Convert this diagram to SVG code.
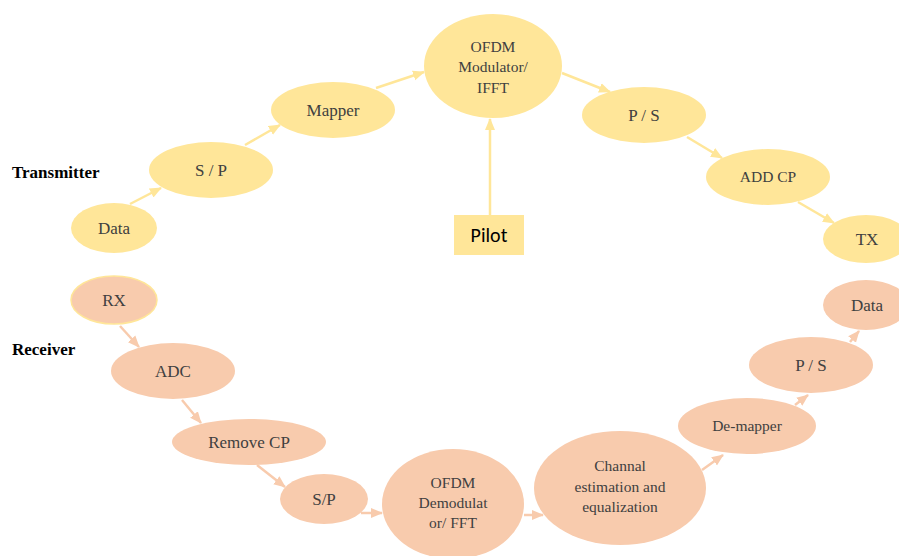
<svg xmlns="http://www.w3.org/2000/svg" width="899" height="556" viewBox="0 0 899 556">
<style>
.tx{fill:#FFE699}
.rx{fill:#F8CBAD}
.t{font-family:'Liberation Serif','Times New Roman','DejaVu Serif',serif;font-size:17px;fill:#404040;text-anchor:middle}
.s{font-size:15.5px}
.lbl{font-family:'Liberation Serif','Times New Roman','DejaVu Serif',serif;font-size:17px;font-weight:bold;fill:#000}
.cy{stroke:#FFE699;stroke-width:2.5;fill:none;marker-end:url(#ay)}
.co{stroke:#F8CBAD;stroke-width:2.5;fill:none;marker-end:url(#ao)}
</style>
<defs>
<marker id="ay" markerUnits="userSpaceOnUse" markerWidth="12" markerHeight="12" viewBox="0 0 12 12" refX="11" refY="6" orient="auto"><path d="M0,1 L12,6 L0,11 Z" fill="#FFE699"/></marker>
<marker id="ao" markerUnits="userSpaceOnUse" markerWidth="12" markerHeight="12" viewBox="0 0 12 12" refX="11" refY="6" orient="auto"><path d="M0,1 L12,6 L0,11 Z" fill="#F8CBAD"/></marker>
</defs>
<rect width="899" height="556" fill="#fff"/>
<text class="lbl" x="12" y="178">Transmitter</text>
<text class="lbl" x="12" y="355">Receiver</text>
<g id="connectors">
<line class="cy" x1="130" y1="204" x2="161" y2="188"/>
<line class="cy" x1="245" y1="145" x2="280" y2="125"/>
<line class="cy" x1="376" y1="88" x2="424" y2="72"/>
<line class="cy" x1="562" y1="73" x2="610" y2="92"/>
<line class="cy" x1="687" y1="137" x2="722" y2="158"/>
<line class="cy" x1="798" y1="202" x2="834" y2="223"/>
<line class="cy" x1="490" y1="215" x2="490" y2="119"/>
<line class="co" x1="120" y1="326" x2="139" y2="347"/>
<line class="co" x1="182" y1="400" x2="201" y2="423"/>
<line class="co" x1="257" y1="465" x2="285" y2="487"/>
<line class="co" x1="361" y1="513" x2="382" y2="513"/>
<line class="co" x1="524" y1="515" x2="543" y2="515"/>
<line class="co" x1="702" y1="470" x2="723" y2="455"/>
<line class="co" x1="795" y1="405" x2="808" y2="395"/>
<line class="co" x1="850" y1="342" x2="859" y2="331"/>
</g>
<g id="tx-data"><ellipse class="tx" cx="114" cy="228" rx="43" ry="25"/><text class="t" x="114" y="234">Data</text></g>
<g id="tx-sp"><ellipse class="tx" cx="211" cy="170" rx="62" ry="28"/><text class="t" x="211" y="176">S / P</text></g>
<g id="tx-mapper"><ellipse class="tx" cx="333" cy="110" rx="62" ry="28"/><text class="t" x="333" y="116">Mapper</text></g>
<g id="tx-ofdm"><ellipse class="tx" cx="493" cy="66" rx="69" ry="52"/><text class="t s" x="493" y="52">OFDM</text><text class="t s" x="493" y="72">Modulator/</text><text class="t s" x="493" y="93">IFFT</text></g>
<g id="tx-ps"><ellipse class="tx" cx="644" cy="115" rx="62" ry="28"/><text class="t" x="644" y="121">P / S</text></g>
<g id="tx-addcp"><ellipse class="tx" cx="768" cy="177" rx="62" ry="28"/><text class="t s" x="768" y="182">ADD CP</text></g>
<g id="tx-tx"><ellipse class="tx" cx="866" cy="239" rx="43" ry="24"/><text class="t" x="867" y="245">TX</text></g>
<g id="pilot"><rect class="tx" x="454" y="215" width="70" height="40"/><text x="489" y="242" text-anchor="middle" font-family="Carlito,'Liberation Sans',sans-serif" font-size="20" fill="#000">Pilot</text></g>
<g id="rx-rx"><ellipse class="rx" cx="114" cy="300" rx="43" ry="24" stroke="#FFE699" stroke-width="1.5"/><text class="t" x="114" y="306">RX</text></g>
<g id="rx-adc"><ellipse class="rx" cx="173" cy="371" rx="62" ry="28"/><text class="t" x="173" y="377">ADC</text></g>
<g id="rx-removecp"><ellipse class="rx" cx="249" cy="442" rx="77" ry="23"/><text class="t" x="249" y="448">Remove CP</text></g>
<g id="rx-sp"><ellipse class="rx" cx="324" cy="499" rx="44" ry="25"/><text class="t" x="324" y="505">S/P</text></g>
<g id="rx-ofdm"><ellipse class="rx" cx="453" cy="504" rx="71" ry="55"/><text class="t s" x="453" y="488">OFDM</text><text class="t s" x="453" y="508">Demodulat</text><text class="t s" x="453" y="528">or/ FFT</text></g>
<g id="rx-chan"><ellipse class="rx" cx="620" cy="488" rx="86" ry="57"/><text class="t s" x="620" y="471">Channal</text><text class="t s" x="620" y="492">estimation and</text><text class="t s" x="620" y="512">equalization</text></g>
<g id="rx-demapper"><ellipse class="rx" cx="747" cy="426" rx="69" ry="28"/><text class="t s" x="747" y="431">De-mapper</text></g>
<g id="rx-ps"><ellipse class="rx" cx="811" cy="365" rx="62" ry="28"/><text class="t" x="811" y="371">P / S</text></g>
<g id="rx-data"><ellipse class="rx" cx="866" cy="305" rx="43" ry="25"/><text class="t" x="867" y="311">Data</text></g>
</svg>
